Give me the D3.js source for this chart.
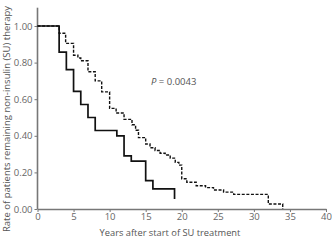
<!DOCTYPE html>
<html>
<head>
<meta charset="utf-8">
<script src="https://cdn.jsdelivr.net/npm/d3@7"></script>
<style>
  body { margin: 0; background: #fff; }
  svg text { font-family: "Open Sans", "Noto Sans", sans-serif; fill: #555; }
</style>
</head>
<body>
<script>
// Kaplan-Meier steps: [years, rate after step]
let solidSteps = [
    [0, 1.0], [3, 0.857], [4, 0.762], [5, 0.643], [6, 0.571], [7, 0.50],
    [8, 0.429], [11, 0.40], [12, 0.29], [13, 0.262], [15, 0.155],
    [16, 0.11], [19, 0.055]
];
let dashedSteps = [
    [0, 1.0], [3.0, 0.96], [3.9, 0.905], [5.0, 0.84], [5.6, 0.825], [6.0, 0.81],
    [7.0, 0.75], [8.0, 0.70], [8.9, 0.64], [10.0, 0.55], [10.9, 0.525],
    [12.0, 0.49], [13.1, 0.46], [13.6, 0.43], [14.0, 0.39], [15.0, 0.355],
    [15.6, 0.335], [16.3, 0.32], [17.0, 0.305], [17.7, 0.295], [18.4, 0.278],
    [19.1, 0.255], [19.6, 0.24], [20.0, 0.165], [20.7, 0.146], [22.0, 0.127],
    [23.3, 0.117], [24.4, 0.104], [25.8, 0.092], [27.2, 0.08], [32.0, 0.027],
    [34.0, 0]
];
let xTicks = [0, 5, 10, 15, 20, 25, 30, 35, 40];
let yTicks = [0, 0.2, 0.4, 0.6, 0.8, 1.0];
let pLabel = '0.0043';

let width = 332, height = 240;

let svg = d3.select('body').append('svg')
    .attr('width', width)
    .attr('height', height);

let x = d3.scaleLinear().domain([0, 40]).range([37.5, 326]);
let y = d3.scaleLinear().domain([0, 1]).range([209, 26]);

// axes
let xAxis = svg.append('g')
    .attr('transform', 'translate(0,' + y(0) + ')')
    .call(d3.axisBottom(x).tickValues(xTicks).tickSize(3).tickPadding(1).tickSizeOuter(0));
let yAxis = svg.append('g')
    .attr('transform', 'translate(' + x(0) + ',0)')
    .call(d3.axisLeft(y).tickValues(yTicks).tickFormat(d3.format('.2f')).tickSize(3).tickPadding(2).tickSizeOuter(0));

[xAxis, yAxis].forEach(a => {
    a.selectAll('.domain').attr('stroke', '#777').attr('stroke-width', 1.6);
    a.selectAll('.tick line').attr('stroke', '#777');
    a.selectAll('text').attr('font-size', 9.5).style('fill', '#666');
});
// y axis line goes a bit above 1.00
yAxis.select('.domain').attr('d', 'M0,' + y(0) + 'V' + y(1.1));

let line = d3.line()
    .x(d => x(d[0]))
    .y(d => y(d[1]))
    .curve(d3.curveStepAfter);

svg.append('path')
    .datum(dashedSteps)
    .attr('d', line)
    .attr('fill', 'none')
    .attr('stroke', '#111')
    .attr('stroke-width', 1.4)
    .attr('stroke-dasharray', '3,1.6');

svg.append('path')
    .datum(solidSteps)
    .attr('d', line)
    .attr('fill', 'none')
    .attr('stroke', '#111')
    .attr('stroke-width', 1.7);

// p value
let pt = svg.append('text')
    .attr('x', 151)
    .attr('y', 85)
    .attr('font-size', 9.5);
pt.append('tspan').attr('font-style', 'italic').text('P');
pt.append('tspan').text(' = ' + pLabel);

// axis titles
svg.append('text')
    .attr('x', 170)
    .attr('y', 236)
    .attr('text-anchor', 'middle')
    .attr('font-size', 9.3)
    .text('Years after start of SU treatment');

svg.append('text')
    .attr('transform', 'translate(10,119) rotate(-90)')
    .attr('text-anchor', 'middle')
    .attr('font-size', 9.5)
    .text('Rate of patients remaining non-insulin (SU) therapy');
</script>
</body>
</html>
